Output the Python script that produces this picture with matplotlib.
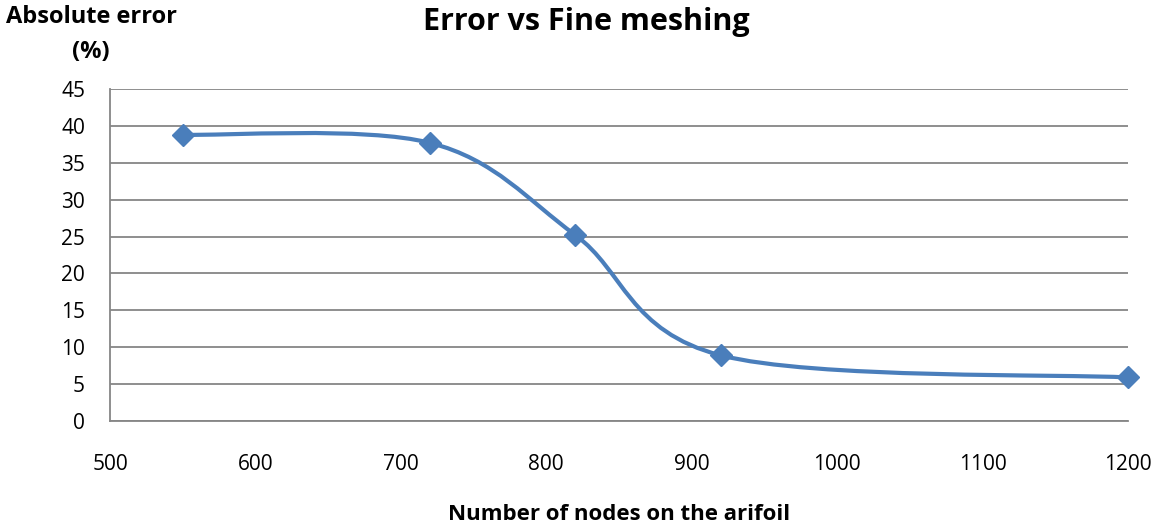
import matplotlib
matplotlib.use("Agg")
import matplotlib.pyplot as plt
from matplotlib.path import Path
from matplotlib.patches import PathPatch

# data
nodes = [550, 720, 820, 920, 1200]
abs_error = [38.8, 37.7, 25.2, 8.9, 5.9]

x_ticks = [500, 600, 700, 800, 900, 1000, 1100, 1200]
y_ticks = [0, 5, 10, 15, 20, 25, 30, 35, 40, 45]

BLUE = "#4A7EBB"
GRID = "#868686"

plt.rcParams["font.family"] = ["Open Sans", "DejaVu Sans"]


def smooth_path(xs, ys):
    # Excel-style smoothed line: cubic Bezier segments with Catmull-Rom control points
    pts = list(zip(xs, ys))
    verts = [pts[0]]
    codes = [Path.MOVETO]
    n = len(pts)
    for i in range(n - 1):
        p0 = pts[i - 1] if i > 0 else pts[i]
        p1 = pts[i]
        p2 = pts[i + 1]
        p3 = pts[i + 2] if i + 2 < n else pts[i + 1]
        c1 = (p1[0] + (p2[0] - p0[0]) / 6, p1[1] + (p2[1] - p0[1]) / 6)
        c2 = (p2[0] - (p3[0] - p1[0]) / 6, p2[1] - (p3[1] - p1[1]) / 6)
        verts += [c1, c2, p2]
        codes += [Path.CURVE4] * 3
    return Path(verts, codes)


fig = plt.figure(figsize=(11.55, 5.28), dpi=100)
ax = fig.add_axes([110 / 1155, 1 - 421 / 528, 1018 / 1155, 332 / 528])

ax.add_patch(PathPatch(smooth_path(nodes, abs_error), fill=False,
                       edgecolor=BLUE, linewidth=3, zorder=3))
ax.plot(nodes, abs_error, linestyle="none", marker="D", markersize=11,
        color=BLUE, zorder=4, clip_on=False)

ax.set_xlim(500, 1200)
ax.set_ylim(0, 45)
ax.set_xticks(x_ticks)
ax.set_yticks(y_ticks)
ax.tick_params(axis="both", length=0, labelsize=15, colors="black")
ax.tick_params(axis="y", pad=18)
ax.tick_params(axis="x", pad=24)

ax.yaxis.grid(True, color=GRID, linewidth=1.3)
ax.set_axisbelow(True)
for side in ["top", "right"]:
    ax.spines[side].set_visible(False)
for side in ["left", "bottom"]:
    ax.spines[side].set_color(GRID)
    ax.spines[side].set_linewidth(1.3)

fig.text(586 / 1155, 1 - 22 / 528, "Error vs Fine meshing", ha="center",
         va="center", fontsize=22, fontweight="bold")
fig.text(91 / 1155, 1 - 17 / 528, "Absolute error", ha="center",
         va="center", fontsize=17, fontweight="bold")
fig.text(91 / 1155, 1 - 52 / 528, "(%)", ha="center",
         va="center", fontsize=17, fontweight="bold")
fig.text(619 / 1155, 1 - 514 / 528, "Number of nodes on the arifoil",
         ha="center", va="center", fontsize=16, fontweight="bold")

fig.savefig("out.png", dpi=100)
